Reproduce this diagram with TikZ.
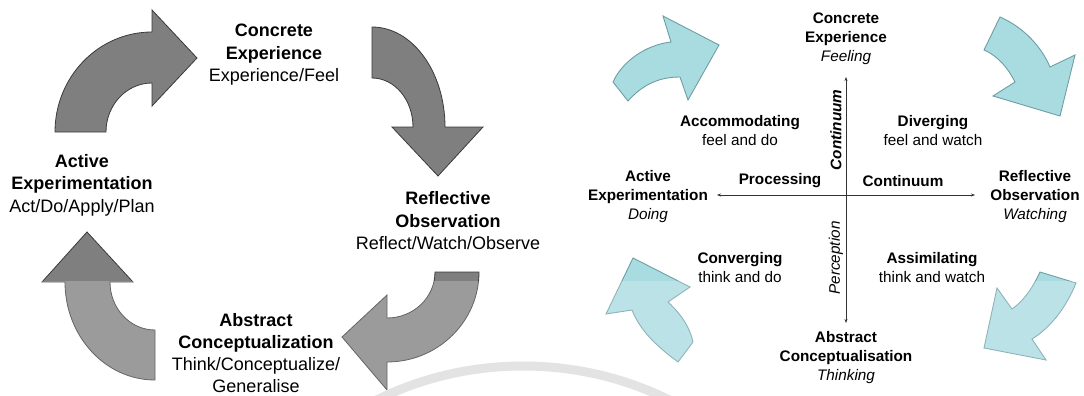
\documentclass[tikz,border=0pt]{standalone}
\usepackage{fontspec}
\setmainfont{Liberation Sans}
\usepackage{xcolor}
\usetikzlibrary{arrows.meta, positioning, calc}

\definecolor{arrowgray}{HTML}{7F7F7F}
\definecolor{arrowedge}{HTML}{3A3A3A}
\definecolor{cyanfill}{HTML}{A9DCE1}
\definecolor{cyanedge}{HTML}{6E9EA4}

\begin{document}
\begin{tikzpicture}[x=1pt, y=-1pt,
  grayarrow/.style={fill=arrowgray, draw=arrowedge, line width=0.8pt},
  cyanarrow/.style={fill=cyanfill, draw=cyanedge, line width=0.9pt},
  stage/.style={align=center, inner sep=0pt, font=\fontsize{18}{22.5}\selectfont},
  quad/.style={align=center, inner sep=0pt, font=\fontsize{15.3}{19}\selectfont},
  axis/.style={line width=0.6pt, draw=black!80, {Stealth[length=4pt,width=3pt]}-{Stealth[length=4pt,width=3pt]}}]
\useasboundingbox (0,0) rectangle (1084,396);

% Learning cycle (grey arrows)
\filldraw[grayarrow] (55,132) arc[start angle=180, end angle=270, x radius=97, y radius=100]
  -- (152,10) -- (197,58) -- (152,106) -- (152,83)
  arc[start angle=270, end angle=180, x radius=46, y radius=49] -- cycle;
\filldraw[grayarrow] (372,27) arc[start angle=270, end angle=360, x radius=73, y radius=100]
  -- (483,127) -- (438,176) -- (392,127) -- (413,127)
  arc[start angle=0, end angle=-90, x radius=41, y radius=49] -- cycle;
\filldraw[grayarrow] (479,272) arc[start angle=0, end angle=90, x radius=92, y radius=90]
  -- (387,390) -- (342,337) -- (387,295) -- (387,318)
  arc[start angle=90, end angle=0, x radius=48, y radius=46] -- cycle;
\filldraw[grayarrow] (155,380) arc[start angle=90, end angle=180, x radius=90, y radius=98]
  -- (42,282) -- (87,232) -- (133,282) -- (110,282)
  arc[start angle=180, end angle=90, x radius=45, y radius=48] -- cycle;

% Learning styles (cyan arrows)
\filldraw[cyanarrow] (613,82) -- (628,101) .. controls (643,84) and (660,77) .. (680,77)
  -- (688,100) -- (719,45) -- (663,16) -- (671,42)
  .. controls (645,45) and (622,62) .. cycle;
\filldraw[cyanarrow] (984,50) -- (1000,17) .. controls (1025,28) and (1042,48) .. (1050,67)
  -- (1075,55) -- (1060,116) -- (993,96) -- (1015,82)
  .. controls (1008,68) and (998,56) .. cycle;
\filldraw[cyanarrow] (633,258) -- (690,287) -- (668,302) .. controls (682,315) and (690,328) .. (693,342)
  -- (678,362) .. controls (655,345) and (640,330) .. (632,310)
  -- (606,314) -- cycle;
\filldraw[cyanarrow] (1040,272) -- (1076,283) .. controls (1066,308) and (1050,328) .. (1032,339)
  -- (1046,360) -- (984,348) -- (997,288) -- (1012,309)
  .. controls (1025,300) and (1034,285) .. cycle;

% faded lower band and swoosh
\fill[white, opacity=0.22] (0,281) rectangle (1084,396);
\draw[gray!22, line width=9pt] (523,634) ++(238:300 and 268) arc[start angle=238, end angle=302, x radius=300, y radius=268];

% Axes
\coordinate (origin) at (846,195);
\coordinate (feel-end) at (846,77);
\coordinate (think-end) at (846,323);
\coordinate (do-end) at (717,195);
\coordinate (watch-end) at (975,195);
\draw[axis] (do-end) -- (watch-end);
\draw[axis] (think-end) -- (feel-end);

% Cycle labels
\node[stage] (ce) at (274,55) {\textbf{Concrete}\\\textbf{Experience}\\Experience/Feel};
\node[stage] (ae) at (82,185) {\textbf{Active}\\\textbf{Experimentation}\\Act/Do/Apply/Plan};
\node[stage] (ro) at (448,221) {\textbf{Reflective}\\\textbf{Observation}\\Reflect/Watch/Observe};
\node[stage, font=\fontsize{18}{22}\selectfont] (ac) at (256,353) {\textbf{Abstract}\\\textbf{Conceptualization}\\Think/Conceptualize/\\Generalise};

% Quadrant labels
\node[quad] (ce2) at (846,39) {\textbf{Concrete}\\\textbf{Experience}\\\textit{Feeling}};
\node[quad] (ae2) at (648,197) {\textbf{Active}\\\textbf{Experimentation}\\\textit{Doing}};
\node[quad] (ro2) at (1035,197) {\textbf{Reflective}\\\textbf{Observation}\\\textit{Watching}};
\node[quad] (ac2) at (846,358) {\textbf{Abstract}\\\textbf{Conceptualisation}\\\textit{Thinking}};
\node[quad] (acc) at (740,131) {\textbf{Accommodating}\\feel and do};
\node[quad] (div) at (933,131) {\textbf{Diverging}\\feel and watch};
\node[quad] (con) at (740,268) {\textbf{Converging}\\think and do};
\node[quad] (ass) at (932,268) {\textbf{Assimilating}\\think and watch};
\node[quad] (proc) at (780,181) {\textbf{Processing}};
\node[quad] (cont) at (903,181) {\textbf{Continuum}};
\node[quad, rotate=90] (vcont) at (836,130) {\textbf{\textit{Continuum}}};
\node[quad, rotate=90] (perc) at (836,258) {\textit{Perception}};
\end{tikzpicture}
\end{document}
